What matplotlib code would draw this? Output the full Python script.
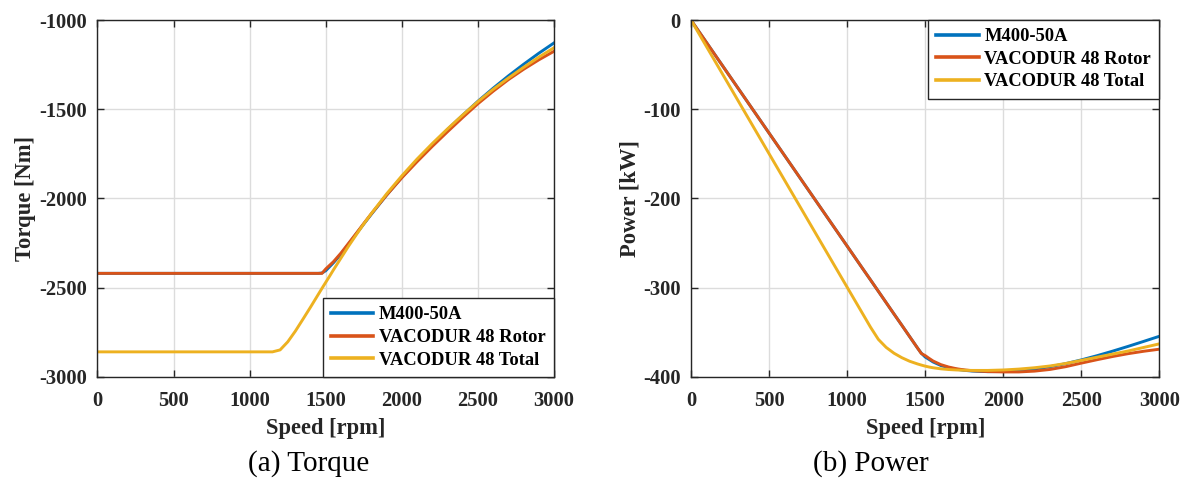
import matplotlib
matplotlib.use("Agg")
import matplotlib.pyplot as plt

# speed grid [rpm]
speed = [0, 500, 1000, 1100, 1150, 1200, 1250, 1300, 1350, 1400, 1450, 1475,
         1500, 1525, 1550, 1600, 1650, 1700, 1750, 1800, 1900, 2000, 2100,
         2200, 2300, 2400, 2500, 2600, 2700, 2800, 2900, 3000]

# torque [Nm]
torque_m400 = [-2420, -2420, -2420, -2420, -2420, -2420, -2420, -2420, -2420, -2420,
               -2420, -2418, -2405, -2383, -2361, -2312, -2256, -2199, -2143, -2088,
               -1981, -1881, -1787, -1698, -1613, -1533, -1455, -1382, -1313, -1248,
               -1186, -1128]
torque_vac_rotor = [-2420, -2420, -2420, -2420, -2420, -2420, -2420, -2420, -2420, -2420,
                    -2420, -2420, -2395, -2375, -2355, -2306, -2251, -2196, -2140, -2085,
                    -1981, -1884, -1794, -1708, -1626, -1546, -1469, -1399, -1334, -1276,
                    -1223, -1175]
torque_vac_total = [-2860, -2860, -2860, -2860, -2860, -2849, -2804, -2744, -2677, -2609,
                    -2539, -2504, -2470, -2436, -2401, -2334, -2267, -2204, -2142, -2084,
                    -1974, -1873, -1779, -1692, -1610, -1532, -1457, -1388, -1325, -1265,
                    -1208, -1155]

# power [kW]
power_m400 = [0, -126.7, -253.4, -278.8, -291.4, -304.1, -316.8, -329.5, -342.1, -354.8,
              -367.5, -373.5, -377.8, -380.5, -383.3, -387.3, -389.8, -391.5, -392.7, -393.5,
              -394.2, -394.0, -393.0, -391.2, -388.6, -385.2, -381.0, -376.3, -371.2, -365.8,
              -360.2, -354.5]
power_vac_rotor = [0, -126.7, -253.4, -278.8, -291.4, -304.1, -316.8, -329.5, -342.1, -354.8,
                   -367.5, -373.8, -376.2, -379.3, -382.2, -386.3, -389.0, -390.9, -392.2, -393.1,
                   -394.1, -394.5, -394.5, -393.6, -391.7, -388.6, -384.6, -380.8, -377.2, -374.0,
                   -371.3, -369.0]
power_vac_total = [0, -149.8, -299.5, -329.4, -344.4, -358.0, -367.0, -373.5, -378.5, -382.5,
                   -385.5, -386.8, -388.0, -389.0, -389.8, -391.0, -391.8, -392.3, -392.6, -392.8,
                   -392.8, -392.3, -391.3, -389.8, -387.8, -385.0, -381.5, -378.0, -374.5, -371.0,
                   -367.0, -363.0]

labels = ['M400-50A', 'VACODUR 48 Rotor', 'VACODUR 48 Total']
colors = ['#0072BD', '#D95319', '#EDB120']

plt.rcParams['font.family'] = ['Liberation Serif', 'DejaVu Serif']
plt.rcParams['font.weight'] = 'bold'
plt.rcParams['axes.unicode_minus'] = False

fig = plt.figure(figsize=(11.87, 4.87), dpi=100)
ax1 = fig.add_axes([0.0821, 0.2262, 0.3847, 0.7327])
ax2 = fig.add_axes([0.5821, 0.2262, 0.3947, 0.7327])


def style_axes(ax, ylim, yticks, ylabel):
    ax.set_xlim(0, 3000)
    ax.set_ylim(*ylim)
    ax.set_xticks([0, 500, 1000, 1500, 2000, 2500, 3000])
    ax.set_yticks(yticks)
    ax.grid(True, color='#dcdcdc', linewidth=1.0)
    ax.set_axisbelow(True)
    ax.tick_params(direction='in', top=True, right=True, length=5,
                   labelsize=14.8, colors='#262626', width=1.0)
    ax.tick_params(axis='x', pad=10)
    ax.tick_params(axis='y', pad=7.5)
    for lab in ax.get_xticklabels() + ax.get_yticklabels():
        lab.set_fontweight('bold')
    for sp in ax.spines.values():
        sp.set_color('#262626')
        sp.set_linewidth(1.0)
    ax.set_xlabel('Speed [rpm]', fontsize=16.3, fontweight='bold', color='#262626', labelpad=5)
    ax.set_ylabel(ylabel, fontsize=16.3, fontweight='bold', color='#262626', labelpad=2)


for y, c, l in zip([torque_m400, torque_vac_rotor, torque_vac_total], colors, labels):
    ax1.plot(speed, y, color=c, linewidth=2.1, label=l)
for y, c, l in zip([power_m400, power_vac_rotor, power_vac_total], colors, labels):
    ax2.plot(speed, y, color=c, linewidth=2.1, label=l)

style_axes(ax1, (-3000, -1000), [-3000, -2500, -2000, -1500, -1000], 'Torque [Nm]')
style_axes(ax2, (-400, 0), [-400, -300, -200, -100, 0], 'Power [kW]')

leg_kw = dict(frameon=True, fancybox=False, borderaxespad=0, borderpad=0.45,
              handlelength=2.3, handletextpad=0.3, labelspacing=0.3,
              edgecolor='#262626', framealpha=1,
              prop={'weight': 'bold', 'size': 13.3})
leg1 = ax1.legend(loc='lower right', **leg_kw)
leg2 = ax2.legend(loc='upper right', **leg_kw)
for leg in (leg1, leg2):
    leg.get_frame().set_linewidth(1.0)
    for line in leg.get_lines():
        line.set_linewidth(2.6)

fig.text(0.2597, 0.049, '(a) Torque', ha='center', va='center', fontsize=21,
         fontweight='normal')
fig.text(0.7338, 0.049, '(b) Power', ha='center', va='center', fontsize=21,
         fontweight='normal')

fig.savefig('out.png', dpi=100)
